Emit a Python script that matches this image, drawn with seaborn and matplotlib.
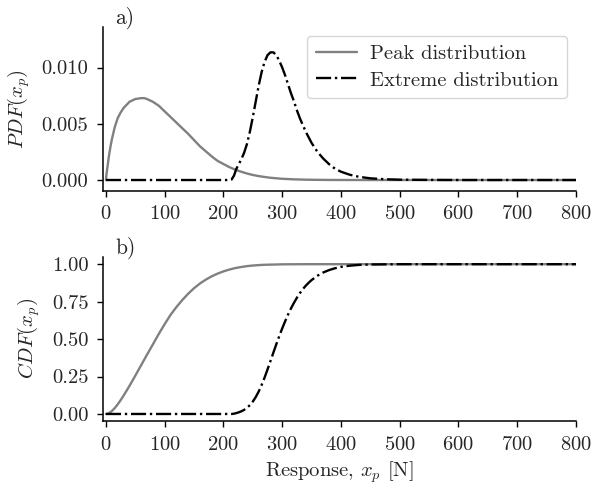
import numpy as np
import pandas as pd
import matplotlib
matplotlib.use("Agg")
import matplotlib.pyplot as plt
import seaborn as sns

# Peak distribution
peak_x = [0, 1, 2.5, 5, 7.5, 10, 15, 20, 25, 30, 40, 50, 60, 65, 70, 80, 90, 100,
          110, 120, 130, 140, 150, 160, 170, 180, 190, 200, 210, 220, 230, 240, 250,
          260, 270, 280, 300, 320, 340, 360, 380, 400, 450, 500, 600, 700, 800]
peak_pdf = [0, 0.00055, 0.00112, 0.0021, 0.0029, 0.0036, 0.0047, 0.0055, 0.0060, 0.0064,
            0.00695, 0.0072, 0.00728, 0.00728, 0.0072, 0.00695, 0.0066, 0.0061,
            0.0056, 0.0051, 0.0046, 0.0041, 0.00355, 0.0030, 0.00255, 0.0021, 0.0017,
            0.00142, 0.00115, 0.00092, 0.00074, 0.00058, 0.00045, 0.00035, 0.00027,
            0.0002, 0.00011, 0.00006, 0.00003, 0.000015, 0.000007, 0.000003, 0, 0, 0, 0, 0]
peak_cdf = [0, 0.0005, 0.0015, 0.0053, 0.0115, 0.0193, 0.0395, 0.0643, 0.0922, 0.1223,
            0.1872, 0.2559, 0.3262, 0.3615, 0.3967, 0.4654, 0.535, 0.600,
            0.662, 0.714, 0.761, 0.803, 0.840, 0.871, 0.897, 0.919, 0.937, 0.952,
            0.964, 0.974, 0.981, 0.987, 0.991, 0.994, 0.996, 0.997, 0.999, 0.9995,
            1.0, 1.0, 1.0, 1.0, 1.0, 1.0, 1.0, 1.0, 1.0]

# Extreme distribution
ext_x = [0, 100, 200, 210, 214, 218, 222, 226, 230, 235, 240, 245, 250, 255, 260, 265,
         270, 275, 280, 285, 290, 295, 300, 305, 310, 315, 320, 325, 330, 335, 340,
         345, 350, 360, 370, 380, 390, 400, 415, 430, 450, 475, 500, 550, 600, 700, 800]
ext_pdf = [0, 0, 0, 0, 0.00005, 0.0004, 0.0010, 0.0014, 0.0018, 0.0024, 0.0032, 0.0043,
           0.0056, 0.0070, 0.0084, 0.0096, 0.0105, 0.0111, 0.01135, 0.01135, 0.0111,
           0.0106, 0.0100, 0.0093, 0.0085, 0.0077, 0.0070, 0.0062, 0.0055, 0.0049,
           0.0043, 0.0038, 0.0033, 0.0025, 0.0019, 0.0014, 0.0010, 0.00074, 0.00047,
           0.00029, 0.00015, 0.00007, 0.00003, 0.00001, 0, 0, 0]
ext_cdf = [0, 0, 0, 0, 0, 0.002, 0.006, 0.011, 0.017, 0.027, 0.041, 0.059, 0.083, 0.113,
           0.150, 0.194, 0.243, 0.297, 0.353, 0.410, 0.466, 0.520, 0.571, 0.619, 0.664,
           0.705, 0.742, 0.776, 0.806, 0.833, 0.856, 0.876, 0.894, 0.923, 0.945, 0.961,
           0.973, 0.982, 0.990, 0.995, 0.998, 0.999, 1.0, 1.0, 1.0, 1.0, 1.0]

labels = ["Peak distribution", "Extreme distribution"]

df = pd.concat([
    pd.DataFrame({"x": peak_x, "pdf": peak_pdf, "cdf": peak_cdf, "dist": labels[0]}),
    pd.DataFrame({"x": ext_x, "pdf": ext_pdf, "cdf": ext_cdf, "dist": labels[1]}),
])

sns.set_style("ticks")
plt.rcParams["font.family"] = ["cmr10", "DejaVu Serif"]
plt.rcParams["mathtext.fontset"] = "cm"
plt.rcParams["axes.formatter.use_mathtext"] = True
plt.rcParams["font.size"] = 14.5

fig = plt.figure(figsize=(5.93, 4.87), dpi=100)
ax1 = fig.add_axes([0.1737, 0.6084, 0.7976, 0.3361])
ax2 = fig.add_axes([0.1737, 0.1355, 0.7976, 0.3374])

palette = {labels[0]: "#808080", labels[1]: "black"}

for ax, col in [(ax1, "pdf"), (ax2, "cdf")]:
    for lab, ls in zip(labels, ["-", "-."]):
        sub = df[df["dist"] == lab]
        sns.lineplot(data=sub, x="x", y=col, ax=ax, color=palette[lab],
                     linestyle=ls, linewidth=1.7, label=lab, legend=False,
                     sort=False)
    ax.set_xlim(-5, 800)
    ax.set_xticks(range(0, 801, 100))
    sns.despine(ax=ax)
    ax.tick_params(labelsize=14.8, length=4.5, width=1.0, color="black", pad=6)
    for s in ["left", "bottom"]:
        ax.spines[s].set_linewidth(1.1)
        ax.spines[s].set_color("black")

ax1.set_ylim(-0.00095, 0.0136)
ax1.set_yticks([0, 0.005, 0.010])
ax1.set_yticklabels(["0.000", "0.005", "0.010"])
ax1.set_xlabel("")
ax1.set_ylabel(r"$PDF(x_p)$", fontsize=14.8, labelpad=7)

ax2.set_ylim(-0.047, 1.05)
ax2.set_yticks([0, 0.25, 0.5, 0.75, 1.0])
ax2.set_yticklabels(["0.00", "0.25", "0.50", "0.75", "1.00"])
ax2.set_ylabel(r"$CDF(x_p)$", fontsize=14.8, labelpad=7)
ax2.set_xlabel(r"Response, $x_p$ [N]", fontsize=14.8, labelpad=4)

ax1.legend(loc="upper right", fontsize=14.8, handlelength=2.0, handletextpad=0.65,
           labelspacing=0.4, frameon=True, edgecolor="0.8", framealpha=0.8,
           borderaxespad=0.45)

fig.text(115 / 593, 1 - 18 / 487, "a)", fontsize=15.5, ha="left", va="center")
fig.text(115 / 593, 1 - 248 / 487, "b)", fontsize=15.5, ha="left", va="center")

fig.savefig("out.png", dpi=100, facecolor="white")
